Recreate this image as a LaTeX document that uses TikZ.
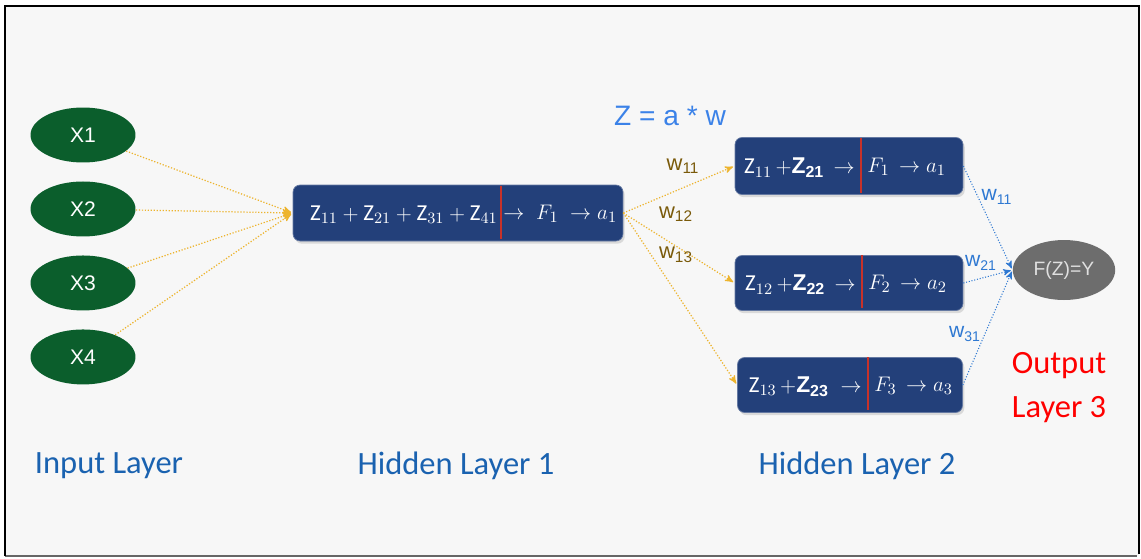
\documentclass[tikz,border=0pt]{standalone}
\usepackage{amsmath,amssymb}
\usepackage{fontspec}
\setmainfont{Carlito}
\newfontfamily\arialfont{Liberation Sans}
\usepackage{xcolor}
\usetikzlibrary{arrows}
\usetikzlibrary{shapes,backgrounds,shadows}

\definecolor{inputgreen}{HTML}{0B5E2C}
\definecolor{boxblue}{HTML}{23407A}
\definecolor{outgray}{HTML}{6D6D6D}
\definecolor{linkgold}{HTML}{EDB42E}
\definecolor{linkblue}{HTML}{2E78D2}
\definecolor{wbrown}{HTML}{7A5A0A}
\definecolor{layerblue}{HTML}{1A62B0}
\definecolor{eqblue}{HTML}{3B82E8}
\definecolor{panelgray}{HTML}{F7F7F7}
\definecolor{cutred}{HTML}{C8322A}

\newcommand{\bZ}[1]{\text{\arialfont\bfseries Z}_{\text{\arialfont\bfseries #1}}}

\begin{document}
\begin{tikzpicture}[x=0.02cm,y=-0.02cm,>=stealth',shorten >=1pt,node distance=1.48cm,
    input node/.style={ellipse,fill=inputgreen,minimum width=2.1cm,minimum height=1.1cm,
                       text=white,font=\arialfont\fontsize{12}{14}\selectfont},
    sum box/.style={rectangle,rounded corners=4pt,fill=boxblue,draw=boxblue!70!white,line width=0.4pt,
                    drop shadow={opacity=0.25,shadow xshift=1pt,shadow yshift=-1.5pt}},
    box text/.style={text=white,inner sep=0pt,font=\fontsize{13}{15}\selectfont},
    divider/.style={cutred,line width=1.2pt},
    out node/.style={ellipse,fill=outgray,minimum width=2.04cm,minimum height=1.2cm,
                     text=white!88!black,font=\arialfont\fontsize{11}{13}\selectfont},
    gold link/.style={->,linkgold,line width=0.7pt,densely dotted},
    blue link/.style={->,linkblue,line width=0.6pt,densely dotted},
    w gold/.style={text=wbrown,font=\arialfont\fontsize{12.5}{14}\selectfont},
    w blue/.style={text=linkblue,font=\arialfont\fontsize{12}{14}\selectfont},
    layer label/.style={text=layerblue,font=\fontsize{18.5}{22}\selectfont}]

  % panel
  \useasboundingbox (0,0) rectangle (1141,558);
  \fill[white] (0,0) rectangle (1141,558);
  \fill[panelgray] (5,6) rectangle (1139,556);
  \draw[black!60,line width=0.8pt] (5,556) -- (1139,556);
  \draw[black,line width=1.6pt] (5,556) -- (5,6) -- (1139,6) -- (1139,556);

  % input layer
  \node[input node] (x1) at (83,135) {X1};
  \node[input node] (x2) [below of=x1] {X2};
  \node[input node] (x3) [below of=x2] {X3};
  \node[input node] (x4) [below of=x3] {X4};

  % hidden layer 1
  \node[sum box,minimum width=6.6cm,minimum height=1.12cm] (h1) at (458,213) {};
  \node[box text,anchor=east] (h1l) at (498,215) {$\mathrm{Z}_{11}+\mathrm{Z}_{21}+\mathrm{Z}_{31}+\mathrm{Z}_{41}$};
  \node[box text,anchor=west] (h1r) at (503,214) {$\rightarrow\; F_1\;\rightarrow a_1$};
  \draw[divider] (501,186) -- (501,241);

  % hidden layer 2
  \node[sum box,minimum width=4.56cm,minimum height=1.14cm] (h21) at (849,166) {};
  \node[box text,anchor=east] (h21l) at (855,168) {$\mathrm{Z}_{11}\,{+}\bZ{21}\,\rightarrow$};
  \node[box text,anchor=west] (h21r) at (867,167) {$F_1\,\rightarrow a_1$};
  \draw[divider] (861,138) -- (861,195);

  \node[sum box,minimum width=4.56cm,minimum height=1.1cm] (h22) at (849,283) {};
  \node[box text,anchor=east] (h22l) at (856,285) {$\mathrm{Z}_{12}\,{+}\bZ{22}\,\rightarrow$};
  \node[box text,anchor=west] (h22r) at (868,284) {$F_2\,\rightarrow a_2$};
  \draw[divider] (862,255) -- (862,310);

  \node[sum box,minimum width=4.5cm,minimum height=1.1cm] (h23) at (850,385) {};
  \node[box text,anchor=east] (h23l) at (862,387) {$\mathrm{Z}_{13}\,{+}\bZ{23}\;\rightarrow$};
  \node[box text,anchor=west] (h23r) at (874,386) {$F_3\,\rightarrow a_3$};
  \draw[divider] (868,357) -- (868,412);

  % output layer
  \node[out node] (y) at (1064,270) {F(Z)=Y};

  \path
    (x1) edge[gold link] (h1.west)
    (x2) edge[gold link] (h1.west)
    (x3) edge[gold link] (h1.west)
    (x4) edge[gold link] (h1.west)
    (h1.east) edge[gold link] (h21.west)
              edge[gold link] (h22.west)
              edge[gold link] (h23.west)
    (h21.east) edge[blue link] (y.west)
    (h22.east) edge[blue link] (y.west)
    (h23.east) edge[blue link] (y.west)
    ;

  % weights
  \node[w gold] (w11) at (683,166) {w\textsubscript{11}};
  \node[w gold] (w12) at (676,214) {w\textsubscript{12}};
  \node[w gold] (w13) at (676,255) {w\textsubscript{13}};
  \node[w blue] (v11) at (997,197) {w\textsubscript{11}};
  \node[w blue] (v21) at (981,263) {w\textsubscript{21}};
  \node[w blue] (v31) at (965,334) {w\textsubscript{31}};

  % labels
  \node[text=eqblue,font=\arialfont\fontsize{16}{19}\selectfont] (eq) at (670,116) {Z = a * w};
  \node[layer label] (lin) at (109,466) {Input Layer};
  \node[layer label] (lh1) at (456,466) {Hidden Layer 1};
  \node[layer label] (lh2) at (857,466) {Hidden Layer 2};
  \node[layer label,text=red,align=center,font=\fontsize{18.5}{25}\selectfont] (lout) at (1059,388) {Output\\Layer 3};
\end{tikzpicture}
\end{document}
